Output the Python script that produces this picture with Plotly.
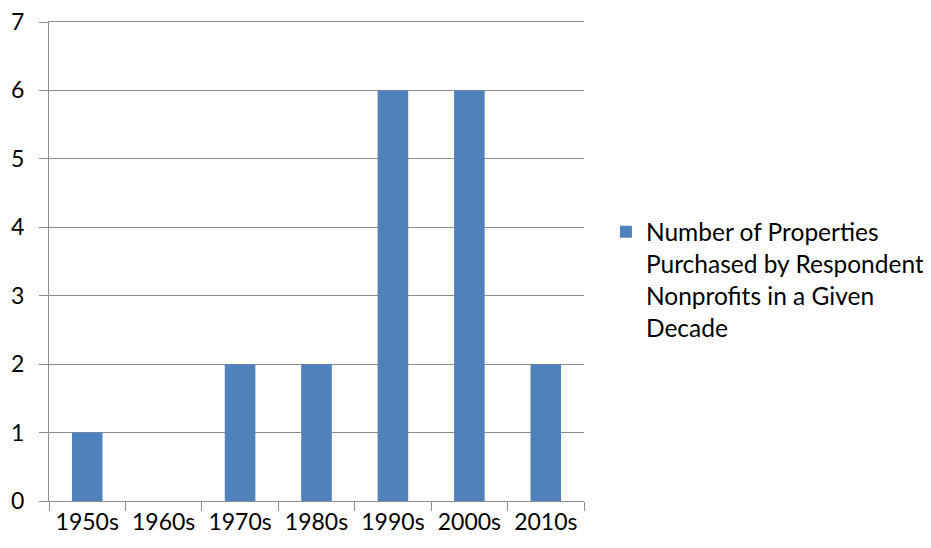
import plotly.graph_objects as go

decades = ["1950s", "1960s", "1970s", "1980s", "1990s", "2000s", "2010s"]
counts = [1, 0, 2, 2, 6, 6, 2]
series_name = "Number of Properties<br>Purchased by Respondent<br>Nonprofits in a Given<br>Decade"

bar_color = "#4F81BD"
grid_color = "#8C8C8C"
font_family = "Lato, 'Open Sans', sans-serif"

fig = go.Figure()
fig.add_trace(go.Bar(x=decades, y=counts, name=series_name,
                     marker=dict(color=bar_color, line=dict(width=0)),
                     showlegend=True))

fig.update_layout(
    width=923, height=540,
    margin=dict(l=41, r=347, t=14, b=47, autoexpand=False),
    paper_bgcolor="white", plot_bgcolor="white",
    bargap=0.6,
    font=dict(family=font_family, size=23, color="#000000"),
    showlegend=True,
    legend=dict(x=1.041, y=0.609, xanchor="left", yanchor="top", valign="top",
                font=dict(size=24.5, family=font_family),
                itemwidth=30, tracegroupgap=0, bgcolor="rgba(0,0,0,0)"),
    xaxis=dict(type="category", showline=True, mirror=True, linecolor=grid_color, linewidth=1,
               ticks="outside", tickson="boundaries", ticklen=9, tickcolor=grid_color,
               showgrid=False, tickfont=dict(size=23), automargin=False),
    yaxis=dict(range=[0, 7], dtick=1, showline=True, linecolor=grid_color, linewidth=1,
               showgrid=True, gridcolor=grid_color, gridwidth=1,
               ticks="outside", ticklen=9, tickcolor=grid_color,
               zeroline=False, ticklabelstandoff=10, tickfont=dict(size=23),
               ticklabeloverflow="allow", automargin=False),
)

fig.write_html("out.html")
